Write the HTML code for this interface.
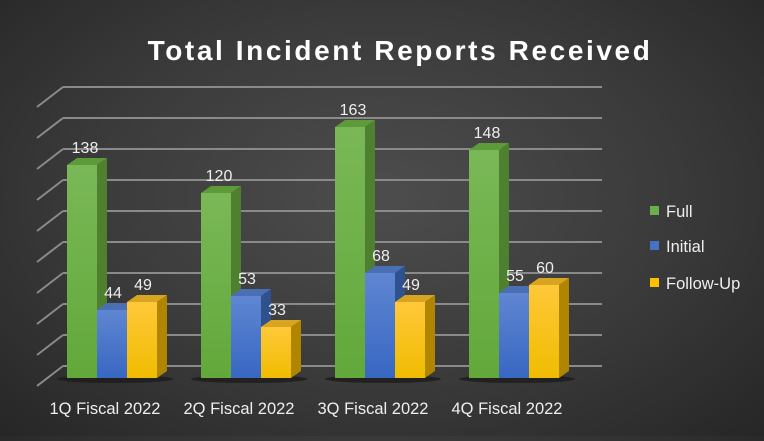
<!DOCTYPE html>
<html><head><meta charset="utf-8"><style>
html,body{margin:0;padding:0;}
body{width:764px;height:436px;overflow:hidden;background:radial-gradient(ellipse at 50% 45%,#4d4d4d 0%,#3a3a3a 55%,#262626 100%);font-family:"Liberation Sans",sans-serif;}
</style></head><body>
<svg width="764" height="436" xmlns="http://www.w3.org/2000/svg" font-family="Liberation Sans, sans-serif">
<defs>
<linearGradient id="g" x1="0" y1="0" x2="0" y2="1"><stop offset="0" stop-color="#7ab857"/><stop offset="1" stop-color="#62a83a"/></linearGradient>
<linearGradient id="b" x1="0" y1="0" x2="0" y2="1"><stop offset="0" stop-color="#5f86d2"/><stop offset="1" stop-color="#3867c2"/></linearGradient>
<linearGradient id="y" x1="0" y1="0" x2="0" y2="1"><stop offset="0" stop-color="#ffc83a"/><stop offset="1" stop-color="#f0bc00"/></linearGradient>
</defs>
<text x="400" y="60" text-anchor="middle" fill="#fff" font-size="28" font-weight="bold" letter-spacing="2.6">Total Incident Reports Received</text>
<g stroke="#8a8a8a" stroke-width="2" fill="none">
<path d="M63 87H602M63 118H602M63 149H602M63 180H602M63 211H602M63 242H602M63 273H602M63 304H602M63 335H602M63 366H602"/>
<path d="M37 107L63 87M37 138L63 118M37 169L63 149M37 200L63 180M37 231L63 211M37 262L63 242M37 293L63 273M37 324L63 304M37 355L63 335M37 386L63 366"/>
</g>
<g fill="#1c1c1c" opacity="0.8">
<ellipse cx="115" cy="379" rx="58" ry="4"/>
<ellipse cx="249" cy="379" rx="58" ry="4"/>
<ellipse cx="383" cy="379" rx="58" ry="4"/>
<ellipse cx="517" cy="379" rx="58" ry="4"/>
</g>
<g font-size="16" fill="#eee" text-anchor="middle">
<polygon points="97,165 107,158 107,371 97,378" fill="#4e8030"/><polygon points="67,165 77,158 107,158 97,165" fill="#5c9a3a"/><rect x="67" y="165" width="30" height="213" fill="url(#g)"/><text x="85" y="153">138</text>
<polygon points="127,310 137,303 137,371 127,378" fill="#2f528f"/><polygon points="97,310 107,303 137,303 127,310" fill="#4a6fb5"/><rect x="97" y="310" width="30" height="68" fill="url(#b)"/><text x="113" y="298">44</text>
<polygon points="157,302 167,295 167,371 157,378" fill="#b08600"/><polygon points="127,302 137,295 167,295 157,302" fill="#d9a520"/><rect x="127" y="302" width="30" height="76" fill="url(#y)"/><text x="143" y="290">49</text>
<polygon points="231,193 241,186 241,371 231,378" fill="#4e8030"/><polygon points="201,193 211,186 241,186 231,193" fill="#5c9a3a"/><rect x="201" y="193" width="30" height="185" fill="url(#g)"/><text x="219" y="181">120</text>
<polygon points="261,296 271,289 271,371 261,378" fill="#2f528f"/><polygon points="231,296 241,289 271,289 261,296" fill="#4a6fb5"/><rect x="231" y="296" width="30" height="82" fill="url(#b)"/><text x="247" y="284">53</text>
<polygon points="291,327 301,320 301,371 291,378" fill="#b08600"/><polygon points="261,327 271,320 301,320 291,327" fill="#d9a520"/><rect x="261" y="327" width="30" height="51" fill="url(#y)"/><text x="277" y="315">33</text>
<polygon points="365,127 375,120 375,371 365,378" fill="#4e8030"/><polygon points="335,127 345,120 375,120 365,127" fill="#5c9a3a"/><rect x="335" y="127" width="30" height="251" fill="url(#g)"/><text x="353" y="115">163</text>
<polygon points="395,273 405,266 405,371 395,378" fill="#2f528f"/><polygon points="365,273 375,266 405,266 395,273" fill="#4a6fb5"/><rect x="365" y="273" width="30" height="105" fill="url(#b)"/><text x="381" y="261">68</text>
<polygon points="425,302 435,295 435,371 425,378" fill="#b08600"/><polygon points="395,302 405,295 435,295 425,302" fill="#d9a520"/><rect x="395" y="302" width="30" height="76" fill="url(#y)"/><text x="411" y="290">49</text>
<polygon points="499,150 509,143 509,371 499,378" fill="#4e8030"/><polygon points="469,150 479,143 509,143 499,150" fill="#5c9a3a"/><rect x="469" y="150" width="30" height="228" fill="url(#g)"/><text x="487" y="138">148</text>
<polygon points="529,293 539,286 539,371 529,378" fill="#2f528f"/><polygon points="499,293 509,286 539,286 529,293" fill="#4a6fb5"/><rect x="499" y="293" width="30" height="85" fill="url(#b)"/><text x="515" y="281">55</text>
<polygon points="559,285 569,278 569,371 559,378" fill="#b08600"/><polygon points="529,285 539,278 569,278 559,285" fill="#d9a520"/><rect x="529" y="285" width="30" height="93" fill="url(#y)"/><text x="545" y="273">60</text>
</g>
<g font-size="16.5">
<rect x="650" y="206" width="9" height="9" fill="#6ab04a"/><text x="666" y="217" fill="#eee">Full</text>
<rect x="650" y="241" width="9" height="9" fill="#4472c4"/><text x="666" y="252" fill="#eee">Initial</text>
<rect x="650" y="278" width="9" height="9" fill="#ffc000"/><text x="666" y="289" fill="#eee">Follow-Up</text>
</g>
<g fill="#eee" font-size="16.5" text-anchor="middle">
<text x="105" y="414">1Q Fiscal 2022</text>
<text x="239" y="414">2Q Fiscal 2022</text>
<text x="373" y="414">3Q Fiscal 2022</text>
<text x="507" y="414">4Q Fiscal 2022</text>
</g>
</svg>
</body></html>
